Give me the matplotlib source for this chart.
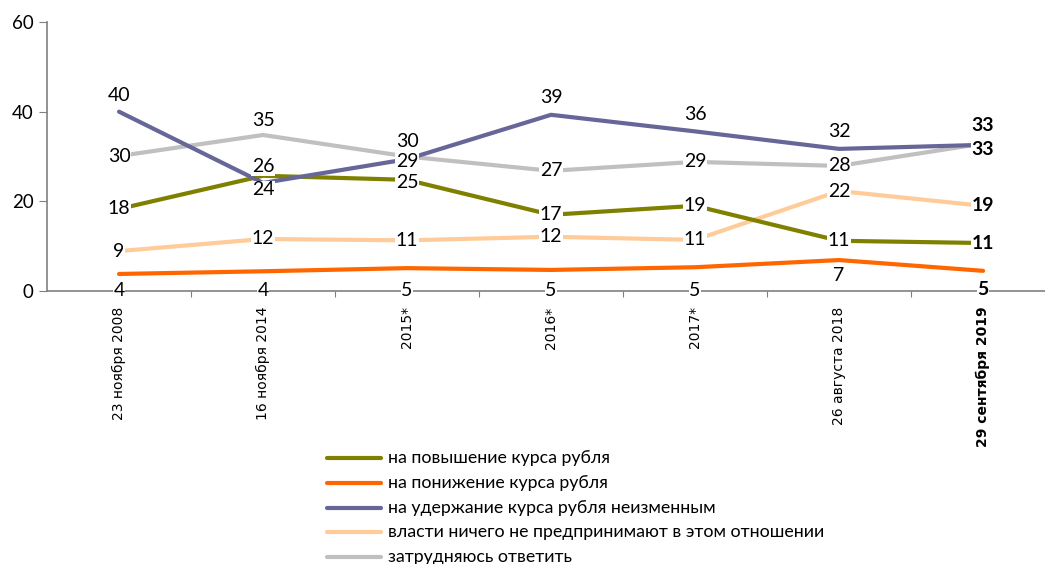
import matplotlib.pyplot as plt

categories = ['23 ноября 2008', '16 ноября 2014', '2015*', '2016*', '2017*',
              '26 августа 2018', '29 сентября 2019']

up = [18.3, 25.7, 24.8, 17.0, 19.0, 11.2, 10.7]
down = [3.8, 4.4, 5.1, 4.7, 5.3, 6.9, 4.5]
hold = [40.0, 24.1, 29.4, 39.3, 35.6, 31.7, 32.6]
nothing = [8.9, 11.6, 11.3, 12.1, 11.4, 22.3, 19.0]
hard = [30.1, 34.8, 30.0, 26.8, 28.8, 27.9, 32.9]

labels_up = [18, 26, 25, 17, 19, 11, 11]
labels_down = [4, 4, 5, 5, 5, 7, 5]
labels_hold = [40, 24, 29, 39, 36, 32, 33]
labels_nothing = [9, 12, 11, 12, 11, 22, 19]
labels_hard = [30, 35, 30, 27, 29, 28, 33]

names = ['на повышение курса рубля', 'на понижение курса рубля',
         'на удержание курса рубля неизменным',
         'власти ничего не предпринимают в этом отношении',
         'затрудняюсь ответить']

FONT = ['Lato', 'DejaVu Sans']

fig = plt.figure(figsize=(10.45, 5.64), dpi=100)
ax = fig.add_axes([47 / 1045, 1 - 291 / 564, 998 / 1045, 269 / 564])

x = list(range(len(categories)))
# label offsets in pixels (positive = up)
series = [
    (hard, labels_hard, '#C0C0C0', [0, 14, 15, 0, 0, 0, -6]),
    (nothing, labels_nothing, '#FFCC99', [0, 0, 0, 0, 0, 0, 0]),
    (up, labels_up, '#808000', [0, 9, -3, 0, 0, 0, 0]),
    (down, labels_down, '#FF6600', [-17, -19, -22, -21, -23, -15, -19]),
    (hold, labels_hold, '#666699', [16, -7, -2, 17, 17, 17, 19]),
]

for vals, labs, col, offs in series:
    ax.plot(x, vals, color=col, lw=3, solid_capstyle='round', zorder=2)

for vals, labs, col, offs in series:
    for i, (v, l, o) in enumerate(zip(vals, labs, offs)):
        bold = i == len(vals) - 1
        ax.annotate(str(l), (i, v), xytext=(0, o), textcoords='offset pixels',
                    ha='center', va='center', fontsize=14,
                    fontweight='bold' if bold else 'normal', family=FONT,
                    bbox=dict(boxstyle='square,pad=0.02', fc='white', ec='none'),
                    zorder=5)

ax.set_xlim(-0.5, 6.43)
ax.set_ylim(0, 60)
ax.set_yticks([0, 20, 40, 60])
ax.tick_params(axis='y', labelsize=13.5, length=6, color='#808080')
for t in ax.get_yticklabels():
    t.set_family(FONT)
ax.set_xticks([i + 0.5 for i in range(6)])
ax.set_xticks(x, minor=True)
ax.set_xticklabels([])
ax.set_xticklabels(categories, minor=True, rotation=90, fontsize=10, va='top')
ax.tick_params(axis='x', which='major', length=4, color='#808080')
ax.tick_params(axis='x', which='minor', length=0, pad=11)
ax.get_xticklabels(minor=True)[-1].set_fontweight('bold')

for s in ['top', 'right']:
    ax.spines[s].set_visible(False)
for s in ['left', 'bottom']:
    ax.spines[s].set_color('#808080')
    ax.spines[s].set_linewidth(1.2)

legend_cols = ['#808000', '#FF6600', '#666699', '#FFCC99', '#C0C0C0']
for k, (name, col) in enumerate(zip(names, legend_cols)):
    ypix = 458 + k * 24.8
    yf = 1 - ypix / 564
    fig.add_artist(plt.Line2D([327 / 1045, 381 / 1045], [yf, yf], color=col, lw=3,
                              solid_capstyle='round'))
    fig.text(388 / 1045, yf, name, va='center', ha='left', fontsize=12.8, family=FONT)

fig.savefig('out.png', dpi=100)
